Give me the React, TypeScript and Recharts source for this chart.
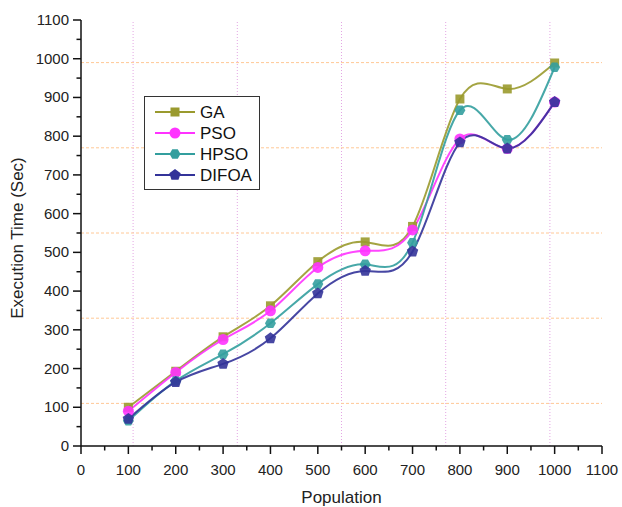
import React from "react";
import {
  LineChart,
  Line,
  XAxis,
  YAxis,
  ReferenceLine,
  Legend,
} from "recharts";

// Population sizes (x) and execution time per algorithm (sec)
const population = [100, 200, 300, 400, 500, 600, 700, 800, 900, 1000];
const gaTimes = [100, 193, 282, 362, 476, 527, 567, 896, 922, 989];
const psoTimes = [90, 190, 275, 349, 461, 504, 558, 793, 768, 888];
const hpsoTimes = [65, 168, 237, 317, 418, 469, 525, 867, 791, 978];
const difoaTimes = [70, 165, 212, 278, 394, 452, 502, 784, 768, 888];

// axis ticks and grid positions
const mainTicks = [0, 50, 100, 150, 200, 250, 300, 350, 400, 450, 500, 550, 600, 650, 700, 750, 800, 850, 900, 950, 1000, 1050, 1100];
const mirrorTicks = [0, 110, 220, 330, 440, 550, 660, 770, 880, 990, 1100];
const gridValues = [110, 330, 550, 770, 990];

const data = population.map((p, i) => ({
  pop: p,
  GA: gaTimes[i],
  PSO: psoTimes[i],
  HPSO: hpsoTimes[i],
  DIFOA: difoaTimes[i],
}));

const colors = {
  GA: "#9A9A2E",
  PSO: "#FF33FF",
  HPSO: "#339E9E",
  DIFOA: "#333399",
};

const FONT = "'Liberation Sans', Arial, sans-serif";
const AXIS = "#111";

function Marker({ shape, cx, cy, color }: { shape: string; cx: number; cy: number; color: string }) {
  if (shape === "square") {
    return <rect x={cx - 4.5} y={cy - 4.5} width={9} height={9} fill={color} />;
  }
  if (shape === "hexagon" || shape === "pentagon") {
    const n = shape === "hexagon" ? 6 : 5;
    const r = shape === "hexagon" ? 5.5 : 6;
    const start = shape === "hexagon" ? 0 : -Math.PI / 2;
    const pts = [];
    for (let k = 0; k < n; k++) {
      const a = start + (k * 2 * Math.PI) / n;
      pts.push(`${cx + r * Math.cos(a)},${cy + r * Math.sin(a)}`);
    }
    return <polygon points={pts.join(" ")} fill={color} />;
  }
  return <circle cx={cx} cy={cy} r={5.5} fill={color} />;
}

const makeDot = (shape: string, color: string) => (props: any) => {
  const { cx, cy, index } = props;
  return (
    <g key={`${shape}-${index}`} opacity={0.9}>
      <Marker shape={shape} cx={cx} cy={cy} color={color} />
    </g>
  );
};

const shapes: Record<string, string> = {
  GA: "square",
  PSO: "circle",
  HPSO: "hexagon",
  DIFOA: "pentagon",
};

const BottomTick = (props: any) => {
  const { x, y, payload } = props;
  const major = payload.value % 100 === 0;
  return (
    <g>
      <line x1={x} y1={y} x2={x} y2={y + (major ? 8 : 4.5)} stroke={AXIS} strokeWidth={1.5} />
      {major && (
        <text x={x} y={y + 29} textAnchor="middle" fontSize={15} fontFamily={FONT} fill="#222">
          {payload.value}
        </text>
      )}
    </g>
  );
};

const LeftTick = (props: any) => {
  const { x, y, payload } = props;
  const major = payload.value % 100 === 0;
  return (
    <g>
      <line x1={x} y1={y} x2={x - (major ? 8 : 4.5)} y2={y} stroke={AXIS} strokeWidth={1.5} />
      {major && (
        <text x={x - 12} y={y + 5} textAnchor="end" fontSize={15} fontFamily={FONT} fill="#222">
          {payload.value}
        </text>
      )}
    </g>
  );
};

const TopTick = (props: any) => {
  const { x, y } = props;
  return <line x1={x} y1={y} x2={x} y2={y + 8} stroke={AXIS} strokeWidth={1.5} />;
};

const RightTick = (props: any) => {
  const { x, y } = props;
  return <line x1={x} y1={y} x2={x - 8} y2={y} stroke={AXIS} strokeWidth={1.5} />;
};

// rotated y title, placed left of the tick labels and centred on the plot
const YTitle = (props: any) => {
  const { viewBox } = props;
  const cx = viewBox.x - 4;
  const cy = viewBox.y + viewBox.height / 2 + 5;
  return (
    <text
      x={cx}
      y={cy}
      transform={`rotate(-90, ${cx}, ${cy})`}
      textAnchor="middle"
      dominantBaseline="central"
      fontSize={17}
      fontFamily={FONT}
      fill="#222"
    >
      Execution Time (Sec)
    </text>
  );
};

const renderLegend = () => {
  const names = ["GA", "PSO", "HPSO", "DIFOA"] as const;
  return (
    <svg width={116} height={94} style={{ display: "block" }}>
      <rect x={0.5} y={0.5} width={115} height={93} fill="#fff" stroke="#333" strokeWidth={1} />
      {names.map((n, i) => {
        const cy = 16 + i * 21;
        return (
          <g key={n}>
            <line x1={11} y1={cy} x2={51} y2={cy} stroke={colors[n]} strokeWidth={2} />
            <Marker shape={shapes[n]} cx={31} cy={cy} color={colors[n]} />
            <text x={56} y={cy + 6} fontSize={17} fontFamily={FONT} fill="#111">
              {n}
            </text>
          </g>
        );
      })}
    </svg>
  );
};

export default function App() {
  const series = ["GA", "PSO", "HPSO", "DIFOA"] as const;
  return (
    <div style={{ position: "absolute", left: 0, top: 0, background: "#fff" }}>
      <LineChart width={622} height={507} data={data} margin={{ top: 20, right: 20, bottom: 0, left: 21 }}>
        <XAxis
          xAxisId="bottom"
          dataKey="pop"
          type="number"
          domain={[0, 1100]}
          ticks={mainTicks}
          interval={0}
          height={61}
          tickSize={0}
          tickMargin={0}
          tickLine={false}
          tick={<BottomTick />}
          axisLine={{ stroke: AXIS, strokeWidth: 1.5 }}
          label={{ value: "Population", position: "insideBottom", offset: 4, fontSize: 17, fontFamily: FONT, fill: "#222" }}
        />
        <XAxis
          xAxisId="top"
          orientation="top"
          dataKey="pop"
          type="number"
          domain={[0, 1100]}
          ticks={mirrorTicks}
          interval={0}
          height={0}
          tickSize={0}
          tickMargin={0}
          tickLine={false}
          tick={<TopTick />}
          axisLine={{ stroke: AXIS, strokeWidth: 1.5 }}
        />
        <YAxis
          yAxisId="left"
          type="number"
          domain={[0, 1100]}
          ticks={mainTicks}
          interval={0}
          width={60}
          tickSize={0}
          tickMargin={0}
          tickLine={false}
          tick={<LeftTick />}
          axisLine={{ stroke: AXIS, strokeWidth: 1.5 }}
          label={<YTitle />}
        />
        <YAxis
          yAxisId="right"
          orientation="right"
          type="number"
          domain={[0, 1100]}
          ticks={mirrorTicks}
          interval={0}
          width={0}
          tickSize={0}
          tickMargin={0}
          tickLine={false}
          tick={<RightTick />}
          axisLine={{ stroke: AXIS, strokeWidth: 1.5 }}
        />
        {gridValues.map((v) => (
          <ReferenceLine
            key={`v${v}`}
            xAxisId="bottom"
            yAxisId="left"
            x={v}
            stroke="#E3A6E3"
            strokeWidth={1}
            strokeDasharray="1 2"
          />
        ))}
        {gridValues.map((v) => (
          <ReferenceLine
            key={`h${v}`}
            xAxisId="bottom"
            yAxisId="left"
            y={v}
            stroke="#FFC896"
            strokeWidth={1}
            strokeDasharray="3 2"
          />
        ))}
        <Legend
          verticalAlign="middle"
          align="center"
          layout="vertical"
          content={renderLegend}
          wrapperStyle={{ position: "absolute", left: 144, top: 96, width: 116, height: 94 }}
        />
        {series.map((s) => (
          <Line
            key={s}
            xAxisId="bottom"
            yAxisId="left"
            type="natural"
            dataKey={s}
            stroke={colors[s]}
            strokeWidth={2}
            strokeOpacity={0.9}
            dot={makeDot(shapes[s], colors[s])}
            activeDot={false}
            isAnimationActive={false}
          />
        ))}
      </LineChart>
    </div>
  );
}
